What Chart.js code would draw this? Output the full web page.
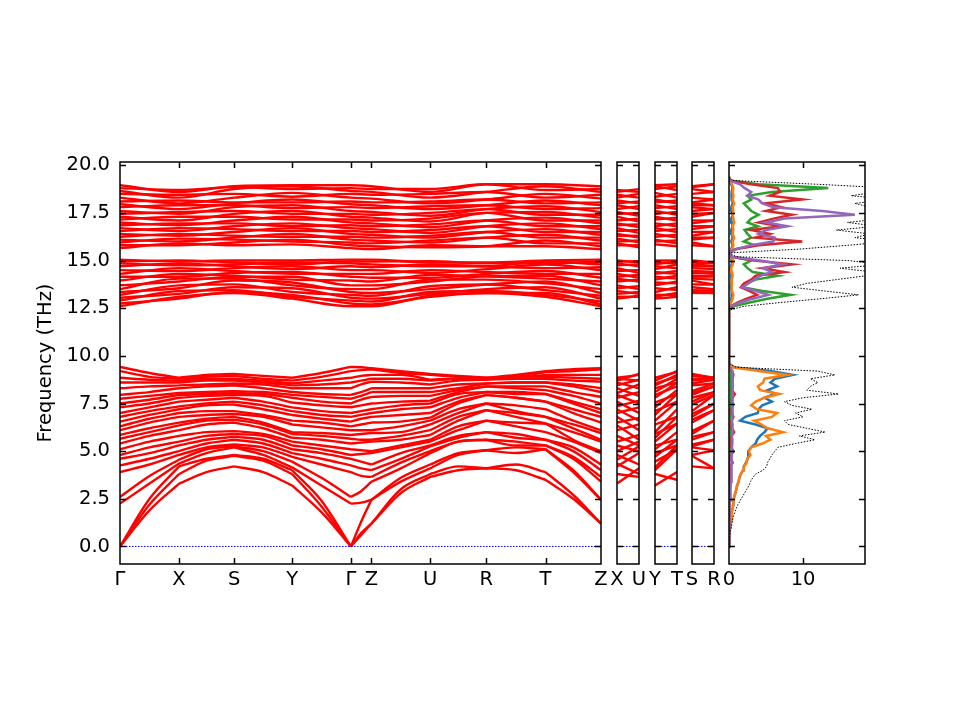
<!DOCTYPE html>
<html>
<head>
<meta charset="utf-8">
<title>Phonon band structure and DOS</title>
<script src="https://cdn.jsdelivr.net/npm/chart.js@4.4.1/dist/chart.umd.min.js"></script>
<style>
  html, body { margin: 0; background: #fff; }
  #fig { position: relative; width: 960px; height: 720px; }
  #fig canvas { position: absolute; left: 0; top: 0; }
</style>
</head>
<body>
<div id="fig">
  <canvas id="bands" width="960" height="720"></canvas>
  <canvas id="xu" width="960" height="720"></canvas>
  <canvas id="yt" width="960" height="720"></canvas>
  <canvas id="sr" width="960" height="720"></canvas>
  <canvas id="dos" width="960" height="720"></canvas>
</div>
<script>
const freqMin = -0.92;
const freqMax = 20.17;
const freqTicks = [0, 2.5, 5, 7.5, 10, 12.5, 15, 17.5, 20];

// main path G-X-S-Y-G-Z-U-R-T-Z
const pathLabels = ["Γ", "X", "S", "Y", "Γ", "Z", "U", "R", "T", "Z"];
const pathDist = [0, 0.59, 1.14, 1.72, 2.307, 2.513, 3.10, 3.66, 4.253, 4.807];

// low branches: G, mid, X, mid, S, mid, Y, mid, G, mid, Z, mid, U, mid, R, mid, T, mid, Z
const lowBands = [
  [0, 1.9, 3.3, 3.9, 4.2, 3.9, 3.2, 1.8, 0, 0.6, 1.2, 2.8, 3.65, 4.0, 4.1, 4.0, 3.5, 2.5, 1.2],
  [0, 2.2, 3.8, 4.5, 4.75, 4.5, 3.8, 2.1, 0, 0.7, 1.2, 3.0, 3.8, 4.2, 4.1, 4.3, 3.9, 2.7, 1.2],
  [0, 2.5, 4.2, 4.6, 4.8, 4.6, 4.0, 2.4, 0, 1.3, 2.45, 3.4, 4.1, 4.8, 5.05, 4.9, 5.1, 3.9, 2.45],
  [2.25, 3.3, 4.35, 4.9, 5.2, 4.8, 4.15, 3.2, 2.25, 2.3, 2.45, 3.6, 4.3, 4.9, 5.05, 5.2, 5.1, 4.0, 2.45],
  [2.6, 3.7, 4.55, 5.1, 5.25, 5.0, 4.45, 3.6, 2.6, 2.9, 3.4, 4.1, 4.9, 5.5, 5.6, 5.3, 5.3, 4.6, 3.4],
  [3.9, 4.3, 4.8, 5.2, 5.35, 5.2, 4.7, 4.3, 3.9, 3.7, 3.65, 4.4, 5.0, 5.5, 5.6, 5.5, 5.3, 4.7, 3.65],
  [4.25, 4.6, 5.0, 5.4, 5.6, 5.4, 4.9, 4.6, 4.25, 4.1, 4.0, 4.6, 5.25, 5.7, 6.0, 5.7, 5.6, 5.0, 4.0],
  [4.6, 4.9, 5.3, 5.6, 5.75, 5.6, 5.1, 4.9, 4.6, 4.45, 4.3, 4.9, 5.3, 5.8, 6.0, 5.9, 5.6, 5.2, 4.3],
  [4.8, 5.2, 5.5, 5.8, 5.9, 5.8, 5.3, 5.1, 4.8, 4.85, 4.9, 5.2, 5.5, 6.1, 6.6, 6.3, 6.0, 5.5, 4.9],
  [5.1, 5.5, 5.8, 6.0, 6.05, 5.9, 5.5, 5.3, 5.1, 5.05, 5.0, 5.3, 5.6, 6.3, 6.6, 6.5, 6.45, 5.6, 5.0],
  [5.4, 5.8, 6.1, 6.4, 6.5, 6.2, 5.7, 5.6, 5.4, 5.45, 5.5, 5.6, 5.85, 6.6, 7.15, 6.8, 6.45, 6.0, 5.5],
  [5.65, 6.0, 6.35, 6.6, 6.65, 6.4, 5.9, 5.8, 5.65, 5.6, 5.6, 5.8, 6.1, 6.8, 7.15, 7.0, 6.8, 6.2, 5.6],
  [5.85, 6.2, 6.5, 6.7, 6.8, 6.5, 6.0, 5.95, 5.85, 5.9, 5.95, 6.0, 6.4, 7.0, 7.5, 7.1, 6.8, 6.4, 5.95],
  [6.1, 6.5, 6.8, 6.9, 6.95, 6.8, 6.4, 6.25, 6.1, 6.1, 6.1, 6.3, 6.6, 7.2, 7.5, 7.4, 7.2, 6.6, 6.1],
  [6.3, 6.7, 7.0, 7.1, 7.1, 6.9, 6.6, 6.5, 6.3, 6.4, 6.5, 6.55, 6.75, 7.5, 7.95, 7.8, 7.6, 7.0, 6.5],
  [6.55, 6.9, 7.2, 7.4, 7.45, 7.2, 6.9, 6.7, 6.55, 6.7, 6.8, 6.9, 7.0, 7.6, 7.95, 7.8, 7.6, 7.2, 6.8],
  [6.8, 7.1, 7.35, 7.5, 7.6, 7.4, 7.1, 6.9, 6.8, 6.9, 7.0, 7.2, 7.3, 7.8, 8.1, 8.0, 8.0, 7.5, 7.0],
  [7.0, 7.3, 7.6, 7.7, 7.8, 7.6, 7.3, 7.1, 7.0, 7.1, 7.2, 7.4, 7.5, 8.0, 8.1, 8.1, 8.0, 7.6, 7.2],
  [7.3, 7.5, 7.8, 7.9, 7.95, 7.9, 7.55, 7.4, 7.3, 7.4, 7.5, 7.6, 7.65, 8.1, 8.4, 8.3, 8.2, 7.9, 7.5],
  [7.5, 7.7, 7.95, 8.0, 8.05, 8.0, 7.8, 7.6, 7.5, 7.7, 7.85, 7.9, 7.9, 8.2, 8.4, 8.4, 8.4, 8.1, 7.85],
  [7.75, 7.9, 8.05, 8.1, 8.15, 8.1, 7.95, 7.85, 7.75, 7.9, 8.1, 8.1, 8.1, 8.3, 8.55, 8.6, 8.6, 8.4, 8.1],
  [7.95, 8.1, 8.3, 8.4, 8.45, 8.3, 8.1, 8.0, 7.95, 8.1, 8.3, 8.3, 8.3, 8.5, 8.55, 8.6, 8.6, 8.5, 8.3],
  [8.3, 8.4, 8.45, 8.5, 8.55, 8.5, 8.3, 8.3, 8.3, 8.5, 8.65, 8.6, 8.5, 8.7, 8.75, 8.8, 8.8, 8.7, 8.65],
  [8.6, 8.6, 8.6, 8.7, 8.7, 8.6, 8.45, 8.5, 8.6, 8.7, 8.8, 8.8, 8.7, 8.8, 8.8, 8.85, 8.9, 8.85, 8.8],
  [8.85, 8.75, 8.7, 8.8, 8.8, 8.7, 8.55, 8.7, 8.85, 8.95, 9.0, 9.0, 8.75, 8.8, 8.8, 8.85, 9.0, 9.0, 9.0],
  [9.2, 8.9, 8.8, 8.9, 8.95, 8.8, 8.7, 8.9, 9.2, 9.25, 9.3, 9.1, 9.0, 8.9, 8.85, 8.9, 9.15, 9.2, 9.3],
  [9.42, 9.1, 8.85, 9.0, 9.05, 8.95, 8.85, 9.1, 9.42, 9.4, 9.35, 9.2, 9.05, 8.95, 8.85, 9.0, 9.2, 9.3, 9.35]
];

// middle optical group (12.5 - 15 THz), values at each high-symmetry point, in band order
const aG = [12.6, 12.75, 12.9, 13.05, 13.2, 13.35, 13.5, 13.7, 13.95, 14.15, 14.3, 14.5, 14.7, 14.85, 14.95, 15.05];
const aX = [13.1, 13.0, 13.4, 13.25, 13.7, 13.55, 14.05, 13.9, 14.3, 14.15, 14.6, 14.45, 14.85, 14.75, 15.0, 14.95];
const aS = [13.3, 13.35, 13.45, 13.6, 13.75, 13.95, 14.05, 14.15, 14.2, 14.35, 14.45, 14.6, 14.7, 14.8, 14.9, 15.0];
const aY = [13.0, 13.2, 13.1, 13.55, 13.35, 13.85, 13.7, 14.15, 14.0, 14.4, 14.3, 14.7, 14.55, 14.9, 14.8, 15.0];
const aZ = [12.6, 12.7, 12.85, 13.0, 13.15, 13.3, 13.5, 13.7, 13.9, 14.1, 14.3, 14.5, 14.65, 14.8, 14.95, 15.05];
const aU = [13.15, 13.1, 13.35, 13.25, 13.65, 13.5, 14.0, 13.9, 14.25, 14.1, 14.5, 14.35, 14.8, 14.7, 14.96, 14.9];
const aR = [13.3, 13.3, 13.4, 13.5, 13.74, 13.74, 14.0, 14.17, 14.17, 14.3, 14.4, 14.55, 14.7, 14.7, 14.85, 14.9];
const aT = [13.1, 13.3, 13.2, 13.6, 13.45, 13.9, 13.8, 14.2, 14.05, 14.45, 14.3, 14.79, 14.6, 14.95, 14.85, 15.0];

// top optical group (15.5 - 19 THz)
const bG = [15.65, 15.8, 15.95, 16.1, 16.25, 16.4, 16.55, 16.7, 16.85, 17.0, 17.15, 17.3, 17.45, 17.6, 17.8, 17.95, 18.1, 18.3, 18.5, 18.65, 18.8, 18.95];
const bX = [15.9, 15.8, 16.15, 16.0, 16.4, 16.3, 16.7, 16.55, 16.95, 16.85, 17.3, 17.1, 17.55, 17.45, 17.9, 17.7, 18.15, 18.0, 18.45, 18.3, 18.7, 18.6];
const bS = [15.8, 15.95, 16.1, 16.2, 16.3, 16.5, 16.65, 16.8, 16.95, 17.1, 17.3, 17.45, 17.6, 17.8, 17.9, 18.0, 18.05, 18.3, 18.5, 18.75, 18.85, 18.9];
const bY = [15.85, 16.1, 16.0, 16.4, 16.25, 16.7, 16.55, 16.95, 16.8, 17.3, 17.15, 17.6, 17.45, 17.9, 17.75, 18.2, 18.05, 18.55, 18.35, 18.9, 18.75, 18.95];
const bZ = [15.6, 15.75, 15.9, 16.05, 16.2, 16.35, 16.5, 16.65, 16.8, 16.95, 17.1, 17.25, 17.4, 17.55, 17.75, 17.9, 18.05, 18.25, 18.45, 18.6, 18.75, 18.9];
const bU = [15.8, 15.7, 16.05, 15.95, 16.3, 16.2, 16.6, 16.45, 16.9, 16.75, 17.2, 17.05, 17.5, 17.35, 17.85, 17.7, 18.1, 18.0, 18.5, 18.3, 18.75, 18.6];
const bR = [15.75, 15.75, 16.2, 16.2, 16.5, 16.5, 16.8, 16.8, 17.1, 17.1, 17.5, 17.5, 17.7, 17.7, 17.9, 17.9, 18.2, 18.2, 18.6, 18.6, 19.0, 19.0];
const bT = [15.75, 16.05, 15.9, 16.35, 16.2, 16.65, 16.5, 16.95, 16.8, 17.25, 17.1, 17.55, 17.4, 17.85, 17.7, 18.15, 18.0, 18.5, 18.3, 18.9, 18.7, 19.0];

// end values of the short X-U and Y-T paths, in band order (crossing branches)
const xuLowEnd = [4.1, 3.65, 4.9, 3.8, 5.25, 4.3, 5.5, 5.0, 5.85, 5.3, 6.4, 5.6, 6.75, 6.1, 7.3, 6.6, 7.65, 7.0, 8.1, 7.5, 8.5, 7.9, 8.75, 8.3, 9.05, 8.7, 9.0];
const xuAEnd = [13.1, 13.15, 13.25, 13.35, 13.5, 13.65, 13.9, 14.0, 14.1, 14.25, 14.35, 14.5, 14.7, 14.8, 14.9, 14.96];
const xuBEnd = [15.7, 15.8, 15.95, 16.05, 16.2, 16.3, 16.45, 16.6, 16.75, 16.9, 17.05, 17.2, 17.35, 17.5, 17.7, 17.85, 18.0, 18.1, 18.3, 18.5, 18.6, 18.75];
const ytLowEnd = [3.9, 3.5, 5.1, 5.3, 5.1, 5.6, 5.3, 6.0, 5.6, 6.45, 6.8, 6.45, 7.2, 6.8, 7.6, 8.0, 7.6, 8.2, 8.0, 8.6, 8.4, 8.8, 8.6, 9.0, 8.9, 9.2, 9.15];
const ytAEnd = [13.1, 13.2, 13.3, 13.45, 13.6, 13.8, 13.9, 14.05, 14.2, 14.3, 14.45, 14.6, 14.79, 14.85, 14.95, 15.0];
const ytBEnd = [15.75, 15.9, 16.05, 16.2, 16.35, 16.5, 16.65, 16.8, 16.95, 17.1, 17.25, 17.4, 17.55, 17.7, 17.85, 18.0, 18.15, 18.3, 18.5, 18.7, 18.9, 19.0];

// density of states
const dosFreq = [
  0, 0.2, 0.4, 0.6, 0.8, 1.0, 1.2, 1.4, 1.6, 1.8, 2.0, 2.2, 2.4, 2.6, 2.8, 3.0, 3.2, 3.4, 3.6, 3.8,
  4.0, 4.2, 4.4, 4.6, 4.8, 5.0, 5.2, 5.4, 5.6, 5.8, 6.0, 6.2, 6.4, 6.6, 6.8, 7.0, 7.2, 7.4, 7.6, 7.8,
  8.0, 8.2, 8.4, 8.6, 8.8, 9.0, 9.2, 9.4, 9.6, 9.8, 10.0, 10.2, 10.4, 10.6, 10.8, 11.0, 11.2, 11.4, 11.6, 11.8,
  12.0, 12.2, 12.4, 12.6, 12.8, 13.0, 13.2, 13.4, 13.6, 13.8, 14.0, 14.2, 14.4, 14.6, 14.8, 15.0, 15.2, 15.4, 15.6, 15.8,
  16.0, 16.2, 16.4, 16.6, 16.8, 17.0, 17.2, 17.4, 17.6, 17.8, 18.0, 18.2, 18.4, 18.6, 18.8, 19.0, 19.2, 19.4
];
const gap14 = [0, 0, 0, 0, 0, 0, 0, 0, 0, 0, 0, 0, 0, 0];
const dosTotal = [
  0, 0, 0.05, 0.1, 0.2, 0.3, 0.4, 0.5, 0.6, 0.8, 1.0, 1.2, 1.5, 1.8, 2.1, 2.4, 2.7, 2.9, 3.2, 3.6,
  4.6, 5.1, 5.2, 5.5, 5.8, 6.2, 6.6, 9.0, 11.6, 9.5, 13.0, 10.5, 8.0, 7.5, 10.0, 9.0, 11.2, 8.5, 7.5, 10.0,
  14.8, 10.5, 11.0, 12.0, 11.0, 14.3, 12.0, 1.0, ...gap14,
  0, 2.0, 7.0, 12.5, 17.5, 13.0, 8.5, 10.5, 14.5, 18.5, 19.5, 15.0, 21.0, 16.0, 1.0, 0,
  9.5, 16.0, 22.0, 17.0, 19.0, 14.5, 20.0, 16.0, 21.0, 25.0, 22.0, 19.0, 17.0, 22.0, 16.5, 20.0, 22.0, 12.0, 0.5, 0
];
const dosBlue = [
  0, 0, 0.02, 0.05, 0.1, 0.15, 0.2, 0.3, 0.35, 0.4, 0.5, 0.55, 0.6, 0.7, 0.85, 1.0, 1.1, 1.3, 1.4, 1.6,
  1.9, 2.0, 2.3, 2.5, 2.7, 2.6, 3.0, 3.6, 3.8, 4.2, 4.8, 5.2, 3.6, 1.5, 2.2, 3.9, 4.0, 4.5, 5.8, 4.8,
  6.2, 5.2, 6.5, 5.6, 6.2, 8.6, 5.6, 0.6, ...gap14,
  0, 0.1, 0.2, 0.3, 0.4, 0.3, 0.2, 0.3, 0.3, 0.35, 0.3, 0.2, 0.35, 0.4, 0.1, 0,
  0.3, 0.5, 0.3, 0.5, 0.4, 0.3, 0.5, 0.4, 0.3, 0.5, 0.4, 0.3, 0.5, 0.4, 0.3, 0.4, 0.5, 0.3, 0.05, 0
];
const dosOrange = [
  0, 0, 0.02, 0.05, 0.1, 0.15, 0.2, 0.3, 0.35, 0.4, 0.5, 0.55, 0.6, 0.7, 0.85, 1.0, 1.1, 1.3, 1.4, 1.6,
  1.9, 2.0, 2.4, 2.5, 2.9, 2.7, 3.0, 4.5, 5.6, 5.0, 7.3, 5.2, 4.4, 3.4, 5.8, 6.5, 3.8, 3.0, 3.6, 4.8,
  6.8, 4.2, 3.9, 4.6, 4.8, 7.8, 4.0, 0.5, ...gap14,
  0, 0.1, 0.3, 0.5, 0.6, 0.4, 0.3, 0.4, 0.4, 0.5, 0.4, 0.3, 0.5, 0.6, 0.1, 0,
  0.4, 0.6, 0.5, 0.7, 0.5, 0.6, 0.5, 0.7, 0.6, 0.5, 0.6, 0.5, 0.7, 0.5, 0.6, 0.5, 0.6, 0.4, 0.05, 0
];
const dosGreen = [
  0, 0, 0, 0, 0, 0, 0, 0, 0, 0, 0.02, 0.02, 0.03, 0.03, 0.04, 0.05, 0.05, 0.06, 0.07, 0.08,
  0.1, 0.1, 0.12, 0.12, 0.15, 0.15, 0.18, 0.2, 0.2, 0.2, 0.22, 0.2, 0.25, 0.2, 0.22, 0.25, 0.2, 0.3, 0.25, 0.3,
  0.3, 0.25, 0.3, 0.3, 0.25, 0.3, 0.25, 0.05, ...gap14,
  0, 0.6, 2.8, 5.2, 8.3, 4.5, 1.8, 2.4, 3.6, 6.6, 3.2, 2.5, 2.0, 3.0, 0.3, 0,
  0.8, 3.5, 2.0, 3.0, 2.5, 2.1, 3.9, 2.5, 3.0, 4.0, 3.0, 2.5, 2.0, 3.0, 2.5, 5.8, 13.4, 4.0, 0.1, 0
];
const dosRed = [
  0, 0, 0, 0, 0, 0, 0, 0, 0.02, 0.03, 0.05, 0.05, 0.08, 0.1, 0.1, 0.12, 0.15, 0.15, 0.2, 0.2,
  0.25, 0.2, 0.5, 0.25, 0.3, 0.6, 0.3, 0.35, 0.3, 0.4, 0.7, 0.35, 0.4, 0.3, 0.6, 0.4, 0.35, 0.5, 0.4, 0.45,
  0.8, 0.4, 0.5, 0.45, 0.5, 0.6, 0.4, 0.1, ...gap14,
  0, 0.2, 1.2, 2.4, 3.8, 2.8, 1.6, 2.0, 3.0, 3.6, 7.5, 4.5, 8.5, 3.4, 0.3, 0,
  1.0, 4.0, 9.9, 3.5, 5.5, 3.0, 7.0, 4.0, 6.0, 8.5, 5.0, 7.1, 5.0, 9.9, 5.5, 6.9, 6.6, 3.0, 0.1, 0
];
const dosPurple = [
  0, 0, 0, 0, 0, 0.02, 0.03, 0.05, 0.06, 0.08, 0.1, 0.12, 0.15, 0.18, 0.2, 0.22, 0.25, 0.28, 0.3, 0.3,
  0.32, 0.35, 0.35, 0.4, 0.4, 0.42, 0.4, 0.45, 0.45, 0.4, 0.45, 0.45, 0.5, 0.4, 0.45, 0.5, 0.45, 0.5, 0.45, 0.5,
  0.5, 0.45, 0.5, 0.5, 0.45, 0.5, 0.45, 0.1, ...gap14,
  0, 0.3, 1.5, 3.2, 5.3, 3.6, 1.8, 2.6, 3.4, 4.2, 5.8, 4.6, 7.2, 4.2, 0.3, 0,
  1.0, 3.0, 6.0, 6.2, 4.0, 5.0, 7.9, 5.0, 7.5, 17.0, 12.6, 6.0, 4.5, 4.0, 2.5, 3.0, 2.1, 1.5, 0.1, 0
];
const dosMax = 18.37;
const dosTicks = [0, 10];

Chart.defaults.font.family = "'DejaVu Sans', sans-serif";
Chart.defaults.font.size = 19.5;
Chart.defaults.color = "#000";

// matplotlib-like frame with inward ticks
const frameTicks = {
  id: "frameTicks",
  afterDraw(chart, args, opts) {
    const { ctx, chartArea: a, scales } = chart;
    const ys = scales.y, xs = scales.x;
    ctx.save();
    ctx.strokeStyle = "#000";
    ctx.lineWidth = 1.5;
    ctx.beginPath();
    freqTicks.forEach((v) => {
      const py = Math.round(ys.getPixelForValue(v)) + 0.5;
      ctx.moveTo(a.left, py); ctx.lineTo(a.left + 6, py);
      ctx.moveTo(a.right, py); ctx.lineTo(a.right - 6, py);
    });
    (opts.xTicks || []).forEach((v) => {
      const px = Math.round(xs.getPixelForValue(v)) + 0.5;
      ctx.moveTo(px, a.top); ctx.lineTo(px, a.top + 6);
      ctx.moveTo(px, a.bottom); ctx.lineTo(px, a.bottom - 6);
    });
    ctx.stroke();
    ctx.strokeRect(a.left, a.top, a.right - a.left, a.bottom - a.top);
    ctx.restore();
  },
};
Chart.register(frameTicks);

function bandLine(data) {
  return {
    data, borderColor: "#ff0000", borderWidth: 2.4, pointRadius: 0,
    fill: false, cubicInterpolationMode: "monotone", spanGaps: false,
  };
}

function zeroLine(xMin, xMax) {
  return {
    data: [{ x: xMin, y: 0 }, { x: xMax, y: 0 }],
    borderColor: "#0000ff", borderWidth: 1, borderDash: [1.5, 1.5], pointRadius: 0,
  };
}

function xAxis(min, max, at, labels) {
  return {
    type: "linear", min, max,
    grid: { display: false, drawTicks: false },
    border: { display: false },
    afterBuildTicks: (s) => { s.ticks = at.map((v) => ({ value: v })); },
    afterFit: (s) => { s.height = 30; },
    ticks: { autoSkip: false, maxRotation: 0, minRotation: 0, padding: 4, callback: (v, i) => labels[i] },
  };
}

const hiddenY = { type: "linear", display: false, min: freqMin, max: freqMax };

function baseOptions(padding, xTicks) {
  return {
    responsive: false, animation: false, devicePixelRatio: 1,
    layout: { padding },
    plugins: { legend: { display: false }, tooltip: { enabled: false }, frameTicks: { xTicks } },
  };
}

// ---- main band structure ----
const bandSets = [zeroLine(pathDist[0], pathDist[pathDist.length - 1])];
lowBands.forEach((row) => {
  const pts = [];
  for (let s = 0; s < pathDist.length - 1; s++) {
    const x0 = pathDist[s], x1 = pathDist[s + 1];
    pts.push({ x: x0, y: row[2 * s] }, { x: (x0 + x1) / 2, y: row[2 * s + 1] }, { x: x1, y: row[2 * s + 2] });
    if (s < pathDist.length - 2) pts.push({ x: x1, y: null });
  }
  bandSets.push(bandLine(pts));
});
[[aG, aX, aS, aY, aG, aZ, aU, aR, aT, aZ], [bG, bX, bS, bY, bG, bZ, bU, bR, bT, bZ]].forEach((cols) => {
  cols[0].forEach((_, k) => {
    bandSets.push(bandLine(cols.map((c, i) => ({ x: pathDist[i], y: c[k] }))));
  });
});

const mainOpts = baseOptions({ left: 20, right: 359, top: 162, bottom: 126 }, pathDist.slice(1, -1));
mainOpts.scales = {
  x: xAxis(pathDist[0], pathDist[pathDist.length - 1], pathDist, pathLabels),
  y: {
    type: "linear", min: freqMin, max: freqMax,
    grid: { display: false, drawTicks: false },
    border: { display: false },
    afterBuildTicks: (s) => { s.ticks = freqTicks.map((v) => ({ value: v })); },
    afterFit: (s) => { s.width = 100; },
    ticks: { padding: 10, callback: (v) => v.toFixed(1) },
    title: { display: true, text: "Frequency (THz)", padding: { top: 14, bottom: 0 } },
  },
};
new Chart(document.getElementById("bands"), { type: "line", data: { datasets: bandSets }, options: mainOpts });

// ---- short paths ----
const shortLen = 0.22;
function shortPanel(id, padding, labels, starts, ends) {
  const sets = [zeroLine(0, shortLen)];
  starts.forEach((st, g) => {
    st.forEach((v, k) => {
      sets.push(bandLine([{ x: 0, y: v }, { x: shortLen, y: ends[g][k] }]));
    });
  });
  const opts = baseOptions(padding, []);
  opts.scales = { x: xAxis(0, shortLen, [0, shortLen], labels), y: hiddenY };
  new Chart(document.getElementById(id), { type: "line", data: { datasets: sets }, options: opts });
}
const lowCol = (i) => lowBands.map((r) => r[i]);
shortPanel("xu", { left: 617, right: 321, top: 162, bottom: 126 }, ["X", "U"],
  [lowCol(2), aX, bX], [xuLowEnd, xuAEnd, xuBEnd]);
shortPanel("yt", { left: 655, right: 283, top: 162, bottom: 126 }, ["Y", "T"],
  [lowCol(6), aY, bY], [ytLowEnd, ytAEnd, ytBEnd]);
shortPanel("sr", { left: 692, right: 246, top: 162, bottom: 126 }, ["S", "R"],
  [lowCol(4), aS, bS], [lowCol(14), aR, bR]);

// ---- DOS ----
const dosSeries = [
  [dosTotal, "#000000", 1, [1.5, 1.5]],
  [dosPurple, "#9467bd", 2.5, []],
  [dosRed, "#d62728", 2.5, []],
  [dosGreen, "#2ca02c", 2.5, []],
  [dosOrange, "#ff7f0e", 2.5, []],
  [dosBlue, "#1f77b4", 2.5, []],
];
const dosOpts = baseOptions({ left: 729, right: 95, top: 162, bottom: 126 }, [10]);
dosOpts.indexAxis = "y";
dosOpts.scales = { x: xAxis(0, dosMax, dosTicks, dosTicks.map(String)), y: hiddenY };
new Chart(document.getElementById("dos"), {
  type: "line",
  data: {
    datasets: dosSeries.map(([vals, color, w, dash]) => ({
      data: dosFreq.map((f, i) => ({ x: vals[i], y: f })),
      borderColor: color, borderWidth: w, borderDash: dash, pointRadius: 0, fill: false,
    })),
  },
  options: dosOpts,
});
</script>
</body>
</html>
